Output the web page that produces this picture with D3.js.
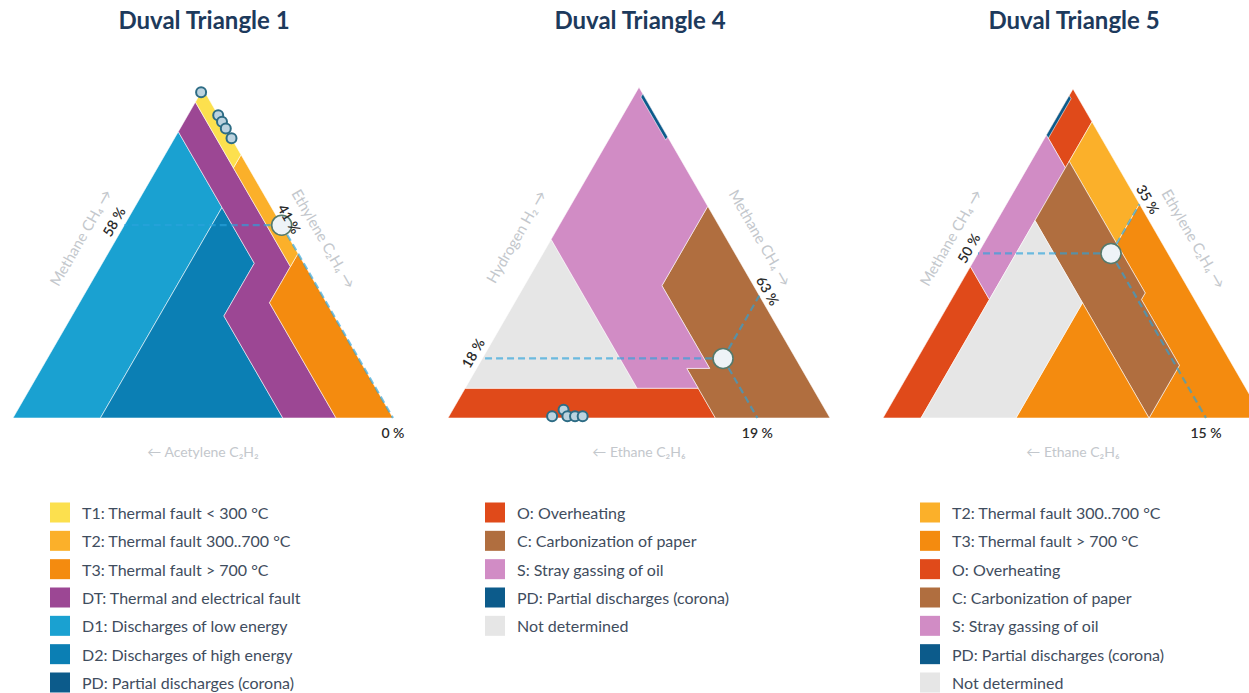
<!DOCTYPE html>
<html><head><meta charset="utf-8">
<script src="https://cdn.jsdelivr.net/npm/d3@7"></script>
<style>
body{margin:0;background:#fff;}
svg{display:block;font-family:Lato,'Noto Sans',sans-serif;}
</style>
</head><body>
<svg id="c" width="1249" height="693"></svg>
<script>
// ---------- DATA ----------
const titles = ["Duval Triangle 1", "Duval Triangle 4", "Duval Triangle 5"];

// axis labels: [left side (top vertex gas), right side (bottom-right gas), bottom (bottom-left gas)]
const axes1 = ["Methane CH₄ →", "Ethylene C₂H₄ →", "← Acetylene C₂H₂"];
const axes4 = ["Hydrogen H₂ →", "Methane CH₄ →", "← Ethane C₂H₆"];
const axes5 = ["Methane CH₄ →", "Ethylene C₂H₄ →", "← Ethane C₂H₆"];

// zone polygons, vertices as % (top gas, bottom-right gas, bottom-left gas)
// Triangle 1: CH4, C2H4, C2H2
const zones1 = [
  {z:"D1", v:[[87,0,13],[64,23,13],[0,23,77],[0,0,100]]},
  {z:"D2", v:[[64,23,13],[47,40,13],[31,40,29],[0,71,29],[0,23,77]]},
  {z:"DT", v:[[96,0,4],[76,20,4],[46,50,4],[35,50,15],[0,85,15],[0,71,29],[31,40,29],[47,40,13],[64,23,13],[87,0,13]]},
  {z:"T3", v:[[50,50,0],[0,100,0],[0,85,15],[35,50,15]]},
  {z:"T2", v:[[80,20,0],[50,50,0],[46,50,4],[76,20,4]]},
  {z:"T1", v:[[98,2,0],[80,20,0],[76,20,4],[96,0,4],[98,0,2]]},
  {z:"PD", v:[[100,0,0],[98,2,0],[98,0,2]]}
];
// Triangle 4: H2, CH4, C2H6
const zones4 = [
  {z:"O",  v:[[0,0,100],[0,70,30],[9,61,30],[9,0,91]]},
  {z:"ND", v:[[9,0,91],[9,45,46],[54,0,46]]},
  {z:"C",  v:[[0,70,30],[0,100,0],[64,36,0],[40,36,24],[15,61,24],[15,55,30]]},
  {z:"S",  v:[[9,45,46],[9,61,30],[15,55,30],[15,61,24],[40,36,24],[64,36,0],[100,0,0],[54,0,46]]},
  {z:"PD", v:[[98,2,0],[97,2,1],[84,15,1],[85,15,0]]}
];
// Triangle 5: CH4, C2H4, C2H6
const zones5 = [
  {z:"O",  v:[[100,0,0],[90,10,0],[78,10,12],[76,10,14],[86,0,14]]},
  {z:"O",  v:[[46,0,54],[36,10,54],[0,10,90],[0,0,100]]},
  {z:"S",  v:[[86,0,14],[76,10,14],[36,10,54],[46,0,54]]},
  {z:"T2", v:[[90,10,0],[65,35,0],[53,35,12],[78,10,12]]},
  {z:"T3", v:[[65,35,0],[0,100,0],[0,70,30],[16,70,14],[36,50,14],[38,50,12],[53,35,12]]},
  {z:"C",  v:[[78,10,12],[53,35,12],[38,50,12],[36,50,14],[16,70,14],[0,70,30],[60,10,30]]},
  {z:"T3", v:[[35,35,30],[0,70,30],[0,35,65]]},
  {z:"ND", v:[[60,10,30],[35,35,30],[0,35,65],[0,10,90],[36,10,54]]},
  {z:"PD", v:[[98,0,2],[97,1,2],[85,1,14],[86,0,14]]}
];

// measured samples (% top gas, bottom-right gas, bottom-left gas)
const samples1 = [[99,0,1],[92,8,0],[90,10,0],[88,12,0],[85,15,0]];
const samples4 = [[0.5,27,72.5],[2.5,29,68.5],[0.5,31,68.5],[0.5,33,66.5],[0.5,35,64.5]];
const samples5 = [];
// highlighted current sample
const current1 = [58, 41, 0];
const current4 = [18, 63, 19];
const current5 = [50, 35, 15];

// legends
const legend1 = [["T1","T1: Thermal fault < 300 °C"],["T2","T2: Thermal fault 300..700 °C"],["T3","T3: Thermal fault > 700 °C"],
  ["DT","DT: Thermal and electrical fault"],["D1","D1: Discharges of low energy"],["D2","D2: Discharges of high energy"],["PD","PD: Partial discharges (corona)"]];
const legend4 = [["O","O: Overheating"],["C","C: Carbonization of paper"],["S","S: Stray gassing of oil"],["PD","PD: Partial discharges (corona)"],["ND","Not determined"]];
const legend5 = [["T2","T2: Thermal fault 300..700 °C"],["T3","T3: Thermal fault > 700 °C"],["O","O: Overheating"],["C","C: Carbonization of paper"],
  ["S","S: Stray gassing of oil"],["PD","PD: Partial discharges (corona)"],["ND","Not determined"]];

// ---------- STYLE ----------
const zoneColor = {T1:"#fce04e", T2:"#fbb02a", T3:"#f48b0f", DT:"#9c4794", D1:"#1aa1d1", D2:"#0b7fb4", PD:"#0c5b8b",
  O:"#e04a1a", C:"#b06e3f", S:"#d18cc5", ND:"#e6e6e6"};

const svg = d3.select("#c");
const S3 = Math.sqrt(3)/2;

const charts = [
  {title:titles[0], axes:axes1, zones:zones1, samples:samples1, cur:current1, legend:legend1, left:13, base:418, width:380, legX:50},
  {title:titles[1], axes:axes4, zones:zones4, samples:samples4, cur:current4, legend:legend4, left:448, base:418, width:382, legX:485},
  {title:titles[2], axes:axes5, zones:zones5, samples:samples5, cur:current5, legend:legend5, left:883, base:418, width:380, legX:920}
];

charts.forEach(ch => {
  const h = ch.width*S3;
  const xs = d3.scaleLinear().domain([0,1]).range([ch.left, ch.left+ch.width]);
  const ys = d3.scaleLinear().domain([0,1]).range([ch.base, ch.base-h]);
  const proj = p => { const s = p[0]+p[1]+p[2]; const a=p[0]/s, b=p[1]/s; return [xs(b+a/2), ys(a)]; };
  const g = svg.append("g");
  const cx = xs(0.5);

  g.append("text").attr("x", cx+1).attr("y", 29).attr("text-anchor","middle")
    .attr("font-size", 24).attr("font-weight", 700).attr("fill", "#1d3a5c").text(ch.title);

  const line = d3.line();
  g.selectAll("path.zone").data(ch.zones).join("path").attr("class","zone")
    .attr("d", d => line(d.v.map(proj)) + "Z")
    .attr("fill", d => zoneColor[d.z])
    .attr("stroke", "#ffffff").attr("stroke-opacity", 0.55).attr("stroke-width", 1).attr("stroke-linejoin","round");

  // reading lines
  const c = ch.cur, sum = c[0]+c[1]+c[2];
  const a = c[0]/sum*100, b = c[1]/sum*100, cc = c[2]/sum*100;
  const P = proj(c);
  const ends = [proj([a,0,100-a]), proj([100-b,b,0]), proj([0,100-cc,cc])];
  ends.forEach(e => {
    g.append("line").attr("x1",P[0]).attr("y1",P[1]).attr("x2",e[0]).attr("y2",e[1])
      .attr("stroke","#29a3dc").attr("stroke-opacity",0.65).attr("stroke-width",2.2).attr("stroke-dasharray","7,4");
  });

  // samples
  g.selectAll("circle.s").data(ch.samples).join("circle").attr("class","s")
    .attr("cx", d=>proj(d)[0]).attr("cy", d=>proj(d)[1]).attr("r", 5)
    .attr("fill","#bcd3df").attr("stroke","#2d6c85").attr("stroke-width",2);
  g.append("circle").attr("cx",P[0]).attr("cy",P[1]).attr("r",10)
    .attr("fill","#eef3f7").attr("stroke","#557a6c").attr("stroke-width",1.6);

  // value labels
  const vl = {"font-size":14, "font-weight":600, "fill":"#2a2a2a", "text-anchor":"middle", "dominant-baseline":"central"};
  const addT = (sel) => { Object.entries(vl).forEach(([k,v]) => sel.attr(k,v)); return sel; };
  const lp = proj([c[0],0,100-c[0]]);
  addT(g.append("text")).attr("transform",`translate(${lp[0]-0.866*11},${lp[1]-0.5*11}) rotate(-60)`).text(c[0]+" %");
  const rp = proj([100-c[1],c[1],0]);
  addT(g.append("text")).attr("transform",`translate(${rp[0]+0.866*10},${rp[1]-0.5*10}) rotate(60)`).text(c[1]+" %");
  const bp = proj([0,100-c[2],c[2]]);
  addT(g.append("text")).attr("x",bp[0]).attr("y",bp[1]+14).text(c[2]+" %");

  // axis labels
  const lm = proj([50,0,50]), rm = proj([50,50,0]), bm = proj([0,50,50]);
  g.append("text").attr("transform",`translate(${lm[0]-0.866*32},${lm[1]-0.5*32}) rotate(-60)`)
    .attr("text-anchor","middle").attr("dominant-baseline","central").attr("font-size",15).attr("fill","#c3c7cc").text(ch.axes[0]);
  g.append("text").attr("transform",`translate(${rm[0]+0.866*30},${rm[1]-0.5*30}) rotate(60)`)
    .attr("text-anchor","middle").attr("dominant-baseline","central").attr("font-size",15).attr("fill","#c3c7cc").text(ch.axes[1]);
  g.append("text").attr("x",bm[0]).attr("y",bm[1]+33)
    .attr("text-anchor","middle").attr("dominant-baseline","central").attr("font-size",14).attr("fill","#c3c7cc").text(ch.axes[2]);

  // legend
  const ly = d3.scalePoint().domain(d3.range(7)).range([512.5, 682.5]);
  const lg = g.selectAll("g.leg").data(ch.legend).join("g").attr("class","leg")
    .attr("transform",(d,i)=>`translate(${ch.legX},${ly(i)})`);
  lg.append("rect").attr("x",0).attr("y",-10).attr("width",20).attr("height",20).attr("fill",d=>zoneColor[d[0]]);
  lg.append("text").attr("x",32).attr("y",0).attr("dominant-baseline","central").attr("font-size",16)
    .attr("fill","#3f4d5e").text(d=>d[1]);
});
</script>
</body></html>
